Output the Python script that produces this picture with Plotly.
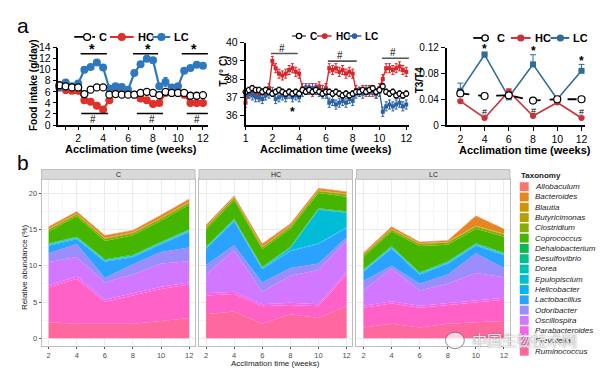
import math
import plotly.graph_objects as go

# ------------------------------------------------------------------ data
# Panel a1: food intake (g/day)
fi_weeks = [0.5, 1, 1.5, 2, 2.5, 3, 3.5, 4, 4.5, 5, 5.5, 6,
            6.5, 7, 7.5, 8, 8.5, 9, 9.5, 10, 10.5, 11, 11.5, 12]
fi_C = [7.2, 7.0, 6.8, 6.8, 5.6, 6.4, 6.8, 6.8, 5.5, 5.6, 5.5, 5.5,
        5.5, 5.8, 6.0, 5.8, 5.4, 6.0, 5.8, 5.8, 5.8, 5.3, 5.3, 5.4]
fi_HC = [6.8, 6.4, 6.2, 6.2, 4.5, 4.2, 3.5, 2.8, 4.5, 6.0, 5.7, 5.8,
         5.5, 4.8, 4.5, 3.8, 4.0, 5.8, 6.0, 6.0, 5.5, 4.0, 4.0, 4.0]
fi_LC = [6.8, 7.7, 7.0, 7.5, 10.0, 10.5, 11.3, 10.4, 6.6, 7.0, 6.9, 6.4,
         9.4, 11.0, 12.0, 11.7, 7.0, 7.8, 6.8, 7.0, 9.8, 10.3, 10.9, 10.7]
fi_C_err = [0.4, 0.3, 0.3, 0.3, 0.3, 0.3, 0.3, 0.3, 0.3, 0.3, 0.3, 0.3,
            0.3, 0.3, 0.3, 0.3, 0.3, 0.3, 0.3, 0.3, 0.3, 0.3, 0.3, 0.3]
fi_HC_err = [0.4, 0.7, 0.5, 0.4, 0.4, 0.3, 0.3, 0.3, 0.4, 0.3, 0.3, 0.3,
             0.3, 0.3, 0.3, 0.3, 0.3, 0.3, 0.3, 0.3, 0.3, 0.3, 0.3, 0.3]
fi_LC_err = [0.4, 0.4, 0.3, 0.3, 0.4, 0.3, 0.4, 0.3, 0.3, 0.3, 0.3, 0.3,
             0.4, 0.3, 0.3, 0.3, 0.4, 0.8, 0.3, 0.3, 0.3, 0.3, 0.3, 0.3]
fi_star_x = [3.1, 7.6, 11.3]
fi_star_bars = [[2.2, 4.3], [6.4, 8.4], [10.3, 12.4]]
fi_hash_x = [3.2, 7.9, 11.5]
fi_hash_bars = [[2.25, 4.4], [6.7, 8.8], [10.7, 12.4]]

# Panel a2: body temperature
tb_weeks = [0, 0.25, 0.5, 0.75, 1, 1.25, 1.5, 1.75, 2, 2.25, 2.5, 2.75, 3,
            3.25, 3.5, 3.75, 4, 4.25, 4.5, 4.75, 5, 5.25, 5.5, 5.75, 6,
            6.25, 6.5, 6.75, 7, 7.25, 7.5, 7.75, 8, 8.25, 8.5, 8.75, 9,
            9.25, 9.5, 9.75, 10, 10.25, 10.5, 10.75, 11, 11.25, 11.5,
            11.75, 12]
tb_HC = [36.7, 37.2, 37.3, 37.2, 37.1, 37.2, 37.3, 37.5, 39.0, 38.6, 38.3,
         38.2, 38.3, 38.5, 38.6, 38.4, 38.3, 37.5, 37.4, 37.5, 37.3, 37.5,
         37.6, 37.4, 37.5, 38.6, 38.5, 38.6, 38.4, 38.5, 38.3, 38.4, 38.3,
         37.4, 37.3, 37.4, 37.3, 37.4, 37.3, 37.2, 37.5, 38.0, 38.6, 38.6,
         38.5, 38.6, 38.7, 38.5, 38.4]
tb_C = [37.3, 37.4, 37.5, 37.4, 37.4, 37.3, 37.4, 37.3, 37.2, 37.3, 37.4,
        37.3, 37.2, 37.3, 37.2, 37.3, 37.2, 37.4, 37.3, 37.4, 37.3, 37.4,
        37.3, 37.2, 37.3, 37.3, 37.2, 37.3, 37.2, 37.1, 37.2, 37.1, 37.2,
        37.3, 37.3, 37.4, 37.3, 37.4, 37.5, 37.3, 37.4, 37.6, 37.3, 37.2,
        37.3, 37.1, 37.2, 37.1, 37.2]
tb_LC = [37.1, 37.2, 37.1, 37.0, 37.0, 36.9, 37.1, 37.2, 37.3, 36.9, 37.0,
         37.1, 37.0, 37.2, 37.0, 37.1, 37.0, 37.3, 37.5, 37.4, 37.5, 37.4,
         37.3, 37.2, 37.2, 36.7, 36.8, 36.6, 36.7, 36.8, 36.7, 36.9, 36.8,
         37.2, 37.3, 37.2, 37.4, 37.3, 37.4, 37.2, 37.3, 36.2, 36.5, 36.6,
         36.5, 36.6, 36.7, 36.5, 36.6]
tb_hash_bars = [[1.9, 3.9, 39.41], [6.15, 8.3, 38.99], [10.2, 12.2, 39.15]]
tb_star = [3.5, 36.2]

# Panel a3: T3/T4 ratio
t3_weeks = [2, 4, 6, 8, 10, 12]
t3_C = [0.049, 0.045, 0.046, 0.038, 0.040, 0.040]
t3_HC = [0.037, 0.011, 0.052, 0.014, 0.035, 0.011]
t3_LC = [0.053, 0.109, 0.043, 0.094, 0.040, 0.084]
t3_C_err = [0.003, 0.004, 0.003, 0.003, 0.004, 0.003]
t3_HC_err = [0.002, 0.002, 0.004, 0.003, 0.002, 0.002]
t3_LC_err = [0.012, 0.004, 0.003, 0.015, 0.004, 0.010]
t3_star_y = [0.118, 0.114, 0.099]
t3_hash_y = [0.020, 0.022, 0.020]
t3_sig_x = [4, 8, 12]

# Panel b: relative abundance (%)
ab_weeks = [2, 4, 6, 8, 10, 12]
taxa = ["Allobaculum", "Bacteroides", "Blautia", "Butyricimonas", "Clostridium",
        "Coprococcus", "Dehalobacterium", "Desulfovibrio", "Dorea", "Epulopiscium",
        "Helicobacter", "Lactobacillus", "Odoribacter", "Oscillospira",
        "Parabacteroides", "Prevotella", "Ruminococcus"]
groups = ["C", "HC", "LC"]
abund_C = {
    "Allobaculum": [0.05, 0.05, 0.05, 0.05, 0.05, 0.05],
    "Bacteroides": [0.25, 0.25, 0.35, 0.25, 0.35, 0.35],
    "Blautia": [0.05, 0.05, 0.05, 0.05, 0.05, 0.05],
    "Butyricimonas": [0.05, 0.05, 0.05, 0.05, 0.05, 0.05],
    "Clostridium": [0.3, 0.3, 0.3, 0.3, 0.3, 0.3],
    "Coprococcus": [1.6, 2.8, 2.5, 2.7, 2.9, 3.4],
    "Dehalobacterium": [0.1, 0.1, 0.1, 0.1, 0.1, 0.1],
    "Desulfovibrio": [0.05, 0.05, 0.05, 0.05, 0.05, 0.05],
    "Dorea": [0.05, 0.05, 0.05, 0.05, 0.05, 0.05],
    "Epulopiscium": [0.05, 0.05, 0.05, 0.05, 0.05, 0.05],
    "Helicobacter": [0.1, 0.1, 0.1, 0.1, 0.1, 0.1],
    "Lactobacillus": [1.05, 0.65, 2.25, 0.95, 1.05, 2.15],
    "Odoribacter": [1.2, 1.8, 0.6, 1.4, 1.6, 1.9],
    "Oscillospira": [3.2, 2.7, 2.4, 2.6, 3.2, 2.9],
    "Parabacteroides": [0.3, 0.3, 0.3, 0.3, 0.3, 0.3],
    "Prevotella": [4.8, 6.2, 3.0, 3.9, 4.4, 4.6],
    "Ruminococcus": [2.2, 2.0, 2.0, 2.0, 2.4, 2.8],
}
abund_HC = {
    "Allobaculum": [0.05, 0.05, 0.05, 0.05, 0.05, 0.05],
    "Bacteroides": [0.25, 0.15, 0.35, 0.25, 0.25, 0.25],
    "Blautia": [0.05, 0.05, 0.05, 0.05, 0.05, 0.05],
    "Butyricimonas": [0.05, 0.05, 0.05, 0.05, 0.05, 0.05],
    "Clostridium": [0.3, 0.3, 0.3, 0.3, 0.3, 0.3],
    "Coprococcus": [2.3, 2.6, 2.4, 2.5, 2.1, 2.0],
    "Dehalobacterium": [0.1, 0.1, 0.1, 0.1, 0.1, 0.1],
    "Desulfovibrio": [0.05, 0.05, 0.05, 0.05, 0.05, 0.05],
    "Dorea": [0.05, 0.05, 0.05, 0.05, 0.05, 0.05],
    "Epulopiscium": [0.05, 0.05, 0.05, 0.3, 4.6, 2.0],
    "Helicobacter": [0.1, 0.1, 0.1, 0.1, 0.1, 0.1],
    "Lactobacillus": [2.2, 3.3, 1.8, 2.3, 2.7, 1.3],
    "Odoribacter": [1.3, 0.7, 1.3, 1.1, 0.9, 0.4],
    "Oscillospira": [2.6, 5.7, 1.7, 3.7, 4.7, 4.4],
    "Parabacteroides": [0.3, 0.3, 0.3, 0.3, 0.3, 0.3],
    "Prevotella": [2.6, 2.4, 2.4, 1.3, 1.6, 4.4],
    "Ruminococcus": [3.3, 3.7, 2.0, 3.3, 2.8, 4.4],
}
abund_LC = {
    "Allobaculum": [0.05, 0.05, 0.05, 0.05, 0.05, 0.05],
    "Bacteroides": [0.15, 0.25, 0.15, 0.15, 1.35, 0.65],
    "Blautia": [0.05, 0.05, 0.05, 0.05, 0.05, 0.05],
    "Butyricimonas": [0.05, 0.05, 0.05, 0.05, 0.05, 0.05],
    "Clostridium": [0.3, 0.3, 0.3, 0.3, 0.3, 0.3],
    "Coprococcus": [1.7, 2.0, 3.6, 2.3, 2.0, 2.2],
    "Dehalobacterium": [0.1, 0.1, 0.1, 0.1, 0.1, 0.1],
    "Desulfovibrio": [0.05, 0.05, 0.05, 0.05, 0.05, 0.05],
    "Dorea": [0.05, 0.05, 0.05, 0.05, 0.05, 0.05],
    "Epulopiscium": [0.05, 0.05, 0.05, 0.05, 0.05, 0.05],
    "Helicobacter": [0.1, 0.1, 0.1, 0.1, 0.1, 0.1],
    "Lactobacillus": [1.25, 2.35, 1.25, 1.45, 1.05, 1.75],
    "Odoribacter": [1.3, 0.4, 0.9, 1.3, 2.7, 1.3],
    "Oscillospira": [2.1, 4.5, 2.1, 2.6, 3.7, 2.8],
    "Parabacteroides": [0.3, 0.3, 0.3, 0.3, 0.3, 0.3],
    "Prevotella": [2.7, 2.8, 2.7, 2.6, 2.8, 2.9],
    "Ruminococcus": [1.5, 2.0, 1.5, 2.0, 2.2, 2.4],
}
abund = {"C": abund_C, "HC": abund_HC, "LC": abund_LC}

# ------------------------------------------------------------------ style helpers
W, H = 600, 374
FONT = "Liberation Sans, Arial, sans-serif"


def px(x):
    return x / W


def py(y):
    return 1 - y / H


def hcl_hex(h, c=100.0, l=65.0):
    # CIE-LUV polar -> sRGB (same as R's hcl / ggplot hue palette)
    Xn, Yn, Zn = 95.047, 100.0, 108.883
    U = c * math.cos(math.radians(h))
    V = c * math.sin(math.radians(h))
    Y = Yn * ((l + 16) / 116) ** 3
    den = Xn + 15 * Yn + 3 * Zn
    un, vn = 4 * Xn / den, 9 * Yn / den
    u = U / (13 * l) + un
    v = V / (13 * l) + vn
    X = Y * 9 * u / (4 * v)
    Z = Y * (12 - 3 * u - 20 * v) / (4 * v)
    X, Y, Z = X / 100, Y / 100, Z / 100
    rgb = [3.2404542 * X - 1.5371385 * Y - 0.4985314 * Z,
           -0.9692660 * X + 1.8760108 * Y + 0.0415560 * Z,
           0.0556434 * X - 0.2040259 * Y + 1.0572252 * Z]
    out = []
    for ch in rgb:
        ch = 12.92 * ch if ch <= 0.0031308 else 1.055 * ch ** (1 / 2.4) - 0.055
        out.append(int(round(max(0, min(1, ch)) * 255)))
    return "#%02X%02X%02X" % tuple(out)


n = len(taxa)
tax_colors = {t: hcl_hex(15 + 360 * i / n) for i, t in enumerate(taxa)}

RED1, BLUE1 = "#E0302A", "#2E78BE"
RED2, BLUE2 = "#D9262B", "#2A62A3"
RED3, BLUE3 = "#C8323A", "#2F6C97"

fig = go.Figure()


def err(arr, color, sym=True, w=2):
    d = dict(type="data", array=arr, color=color, thickness=1, width=w, visible=True)
    if not sym:
        d["symmetric"] = False
        d["arrayminus"] = [0] * len(arr)
    return d


# ------------------------------------------------------------------ panel a1 traces
fig.add_trace(go.Scatter(x=fi_weeks, y=fi_HC, mode="lines+markers", xaxis="x", yaxis="y",
                         line=dict(color=RED1, width=2.2),
                         marker=dict(color=RED1, size=8, line=dict(width=0)),
                         error_y=err(fi_HC_err, RED1), cliponaxis=False))
fig.add_trace(go.Scatter(x=fi_weeks, y=fi_LC, mode="lines+markers", xaxis="x", yaxis="y",
                         line=dict(color=BLUE1, width=2.2),
                         marker=dict(color=BLUE1, size=8, line=dict(width=0)),
                         error_y=err(fi_LC_err, BLUE1), cliponaxis=False))
fig.add_trace(go.Scatter(x=fi_weeks, y=fi_C, mode="lines+markers", xaxis="x", yaxis="y",
                         line=dict(color="black", width=1.5, dash="dash"),
                         marker=dict(color="white", size=7, line=dict(color="black", width=1.3)),
                         error_y=err(fi_C_err, "black"), cliponaxis=False))

# ------------------------------------------------------------------ panel a2 traces
fig.add_trace(go.Scatter(x=tb_weeks, y=tb_HC, mode="lines+markers", xaxis="x2", yaxis="y2",
                         line=dict(color=RED2, width=1.3),
                         marker=dict(color=RED2, size=4, symbol="square"),
                         error_y=err([0.25] * len(tb_HC), RED2, w=1.5), cliponaxis=False))
fig.add_trace(go.Scatter(x=tb_weeks, y=tb_LC, mode="lines+markers", xaxis="x2", yaxis="y2",
                         line=dict(color=BLUE2, width=1.3),
                         marker=dict(color=BLUE2, size=4, symbol="square"),
                         error_y=err([0.25] * len(tb_LC), BLUE2, w=1.5), cliponaxis=False))
fig.add_trace(go.Scatter(x=tb_weeks, y=tb_C, mode="lines+markers", xaxis="x2", yaxis="y2",
                         line=dict(color="black", width=0.8),
                         marker=dict(color="white", size=5, line=dict(color="black", width=1.2)),
                         error_y=err([0.15] * len(tb_C), "black", w=1.5), cliponaxis=False))

# ------------------------------------------------------------------ panel a3 traces
fig.add_trace(go.Scatter(x=t3_weeks, y=t3_HC, mode="lines+markers", xaxis="x3", yaxis="y3",
                         line=dict(color=RED3, width=1.6),
                         marker=dict(color=RED3, size=6),
                         error_y=err(t3_HC_err, RED3, sym=False, w=3), cliponaxis=False))
fig.add_trace(go.Scatter(x=t3_weeks, y=t3_LC, mode="lines+markers", xaxis="x3", yaxis="y3",
                         line=dict(color=BLUE3, width=1.6),
                         marker=dict(color=BLUE3, size=6, symbol="square"),
                         error_y=err(t3_LC_err, BLUE3, sym=False, w=3), cliponaxis=False))
fig.add_trace(go.Scatter(x=t3_weeks, y=t3_C, mode="lines+markers", xaxis="x3", yaxis="y3",
                         line=dict(color="black", width=1.8, dash="dash"),
                         marker=dict(color="white", size=7, line=dict(color="black", width=1.2)),
                         error_y=err(t3_C_err, "black", sym=False, w=3), cliponaxis=False))

# ------------------------------------------------------------------ panel b traces
for gi, g in enumerate(groups):
    ax = str(4 + gi)
    for t in reversed(taxa):  # bottom of stack = last legend entry
        fig.add_trace(go.Scatter(x=ab_weeks, y=abund[g][t], mode="lines",
                                 stackgroup=g, line=dict(width=0, color=tax_colors[t]),
                                 fillcolor=tax_colors[t], name=t,
                                 xaxis="x" + ax, yaxis="y" + ax))

# ------------------------------------------------------------------ axes
top_ax = dict(showline=True, linecolor="black", linewidth=1.5, ticks="outside",
              ticklen=4, tickwidth=1.3, tickcolor="black", showgrid=False,
              zeroline=False, tickfont=dict(size=10.5, color="black", family=FONT))
ydom_top = [py(123), py(43)]

layout = dict(
    width=W, height=H, margin=dict(l=0, r=0, t=0, b=0),
    paper_bgcolor="white", plot_bgcolor="rgba(0,0,0,0)", showlegend=False,
    font=dict(family=FONT, color="black"),
    xaxis=dict(top_ax, domain=[px(56), px(207)], range=[0.42, 12.4], anchor="y",
               tickvals=[2, 4, 6, 8, 10, 12], ticklen=3,
               minor=dict(tickvals=[1, 3, 5, 7, 9, 11], ticks="outside", ticklen=3,
                          tickcolor="black")),
    yaxis=dict(top_ax, domain=ydom_top, range=[0, 14], anchor="x", dtick=2),
    xaxis2=dict(top_ax, domain=[px(245), px(410)], range=[0, 12.2], anchor="y2",
                tickvals=[0, 2, 4, 6, 8, 10, 12], ticklen=3,
                ticktext=["1", "2", "4", "6", "8", "10", "12"]),
    yaxis2=dict(top_ax, domain=[py(123), py(38)], range=[35.47, 40], anchor="x2", dtick=1),
    xaxis3=dict(top_ax, domain=[px(448), px(588)], range=[0.86, 12.3], anchor="y3",
                tickvals=[2, 4, 6, 8, 10, 12]),
    yaxis3=dict(top_ax, domain=ydom_top, range=[0, 0.12], anchor="x3",
                tickvals=[0, 0.04, 0.08, 0.12], ticktext=["0", "0.04", "0.08", "0.12"],
                tickfont=dict(size=10, color="black", family=FONT)),
)

bot_x_dom = [[px(39), px(194)], [px(198), px(353)], [px(357), px(512)]]
ydom_bot = [py(351), py(179)]
for gi in range(3):
    k = str(4 + gi)
    layout["xaxis" + k] = dict(domain=bot_x_dom[gi], range=[1.5, 12.42], anchor="y" + k,
                               tickvals=[2, 4, 6, 8, 10, 12], showline=True, mirror=True,
                               linecolor="#BDBDBD", linewidth=1, ticks="outside", ticklen=2,
                               tickcolor="#555555", tickwidth=0.8,
                               tickfont=dict(size=7.5, color="#4D4D4D"),
                               showgrid=True, gridcolor="#EBEBEB", gridwidth=0.7,
                               minor=dict(tickvals=[3, 5, 7, 9, 11], showgrid=True,
                                          gridcolor="#F6F6F6", gridwidth=0.5),
                               zeroline=False)
    layout["yaxis" + k] = dict(domain=ydom_bot, range=[-1.02, 21.9], anchor="x" + k,
                               tickvals=[0, 5, 10, 15, 20], showline=True, mirror=True,
                               linecolor="#BDBDBD", linewidth=1,
                               ticks="outside" if gi == 0 else "", ticklen=2,
                               tickcolor="#555555", tickwidth=0.8,
                               showticklabels=(gi == 0),
                               tickfont=dict(size=7.5, color="#4D4D4D"),
                               showgrid=True, gridcolor="#EBEBEB", gridwidth=0.7,
                               minor=dict(tickvals=[2.5, 7.5, 12.5, 17.5], showgrid=True,
                                          gridcolor="#F6F6F6", gridwidth=0.5),
                               zeroline=False)
fig.update_layout(**layout)

# ------------------------------------------------------------------ annotations & shapes
ann = []
shapes = []


def text(x, y, s, size=11, bold=False, italic=False, color="black", xanchor="center",
         yanchor="middle", angle=0, xref="paper", yref="paper", family=FONT, **kw):
    if bold:
        s = "<b>" + s + "</b>"
    if italic:
        s = "<i>" + s + "</i>"
    ann.append(dict(x=x, y=y, xref=xref, yref=yref, text=s, showarrow=False,
                    font=dict(size=size, color=color, family=family, **kw),
                    xanchor=xanchor, yanchor=yanchor, textangle=angle))


# panel letters
text(px(20), py(20), "a", size=21)
text(px(20), py(162), "b", size=21)

# axis titles (top)
text(px(31), py(82), "Food intake (g/day)", size=10, bold=True, angle=-90)
text(px(129), py(148), "Acclimation time (weeks)", size=11, bold=True)
text(px(223), py(67), "T<sub>b</sub>(° C)", size=10, bold=True, angle=-90)
text(px(326), py(148), "Acclimation time (weeks)", size=11, bold=True)
text(px(421), py(76), "T3/T4", size=10, bold=True, angle=-90)
text(px(527), py(149), "Acclimation time (weeks)", size=11, bold=True)

# significance: panel a1
for sx, (b0, b1) in zip(fi_star_x, fi_star_bars):
    shapes.append(dict(type="line", xref="x", yref="y", x0=b0, x1=b1, y0=12.9, y1=12.9,
                       line=dict(color="black", width=1.6)))
    text(sx, 13.75, "*", size=14, bold=True, xref="x", yref="y")
for hx, (b0, b1) in zip(fi_hash_x, fi_hash_bars):
    shapes.append(dict(type="line", xref="x", yref="y", x0=b0, x1=b1, y0=2.1, y1=2.1,
                       line=dict(color="black", width=1.6)))
    text(hx, 1.0, "#", size=10, xref="x", yref="y")

# significance: panel a2
for b0, b1, by in tb_hash_bars:
    shapes.append(dict(type="line", xref="x2", yref="y2", x0=b0, x1=b1, y0=by, y1=by,
                       line=dict(color="#555555", width=1.6)))
    text((b0 + b1) / 2 - 0.2, by + 0.3, "#", size=10, xref="x2", yref="y2")
text(tb_star[0], tb_star[1], "*", size=12, bold=True, xref="x2", yref="y2")

# significance: panel a3
for sx, sy, hy in zip(t3_sig_x, t3_star_y, t3_hash_y):
    text(sx, sy, "*", size=12, bold=True, xref="x3", yref="y3")
    text(sx, hy, "#", size=9, xref="x3", yref="y3")


# legends for the top panels
def leg(x0, x1, xm, xt, y, color, dash, open_m, label, r, lw=2, fs=11):
    shapes.append(dict(type="line", xref="paper", yref="paper", x0=px(x0), x1=px(x1),
                       y0=py(y), y1=py(y), line=dict(color=color, width=lw, dash=dash)))
    shapes.append(dict(type="circle", xref="paper", yref="paper",
                       x0=px(xm - r), x1=px(xm + r), y0=py(y + r), y1=py(y - r),
                       fillcolor="white" if open_m else color,
                       line=dict(color=color, width=1.3)))
    text(px(xt), py(y), label, size=fs, bold=True, xanchor="left")


leg(72, 93, 85, 95, 32, "black", "dash", True, "C", 3.5, 1.8)
leg(108, 132, 120, 134, 32, RED1, "solid", False, "HC", 3.5)
leg(151, 169, 160, 171, 32, BLUE1, "solid", False, "LC", 3.5)

leg(292, 306, 299, 308, 31, "black", "solid", True, "C", 2.7, 1, 10)
leg(317, 332, 325, 334, 31, RED2, "solid", False, "HC", 2.3, 1.5, 10)
leg(349, 362, 355, 364, 31, BLUE2, "solid", False, "LC", 2.3, 1.5, 10)

leg(475, 492, 487, 497, 33, "black", "dash", True, "C", 3.2, 1.8)
leg(513, 533, 523, 535, 33, RED3, "solid", False, "HC", 3)
leg(553, 572, 563, 574, 33, BLUE3, "solid", False, "LC", 3)

# strips for panel b facets
for gi, g in enumerate(groups):
    d0, d1 = bot_x_dom[gi]
    shapes.append(dict(type="rect", xref="paper", yref="paper", x0=d0, x1=d1,
                       y0=py(179), y1=py(169), fillcolor="#D9D9D9",
                       line=dict(color="#BDBDBD", width=1), layer="above"))
    text((d0 + d1) / 2, py(174), g, size=7, color="#1A1A1A")

# panel b axis titles
text(px(22), py(270), "Relative abundance (%)", size=8, color="#1A1A1A", angle=-90)
text(px(275), py(369), "Acclimation time (weeks)", size=8, color="#1A1A1A")

# taxonomy legend
text(px(521), py(175), "Taxonomy", size=8, bold=True, xanchor="left", color="#1A1A1A")
for i, t in enumerate(taxa):
    yc = 186.7 + i * 10.625
    shapes.append(dict(type="rect", xref="paper", yref="paper", x0=px(522), x1=px(531),
                       y0=py(yc + 4.6), y1=py(yc - 4.6), fillcolor=tax_colors[t],
                       line=dict(width=0)))
    text(px(535), py(yc), t, size=8, italic=True, xanchor="left", color="#1A1A1A")

# watermark
text(px(527), py(345), "中国生物技术网", size=15, color="rgba(255,255,255,0.85)",
     family="Noto Sans CJK SC", shadow="0px 0px 1.5px #555555")
shapes.append(dict(type="circle", xref="paper", yref="paper", x0=px(447), x1=px(466),
                   y0=py(354), y1=py(337), fillcolor="rgba(255,255,255,0.7)",
                   line=dict(color="rgba(90,90,90,0.7)", width=1)))

fig.update_layout(annotations=ann, shapes=shapes)
fig.write_html("out.html", config={"displayModeBar": False},
               post_script="document.body.style.margin='0px';document.body.style.overflow='hidden';")
